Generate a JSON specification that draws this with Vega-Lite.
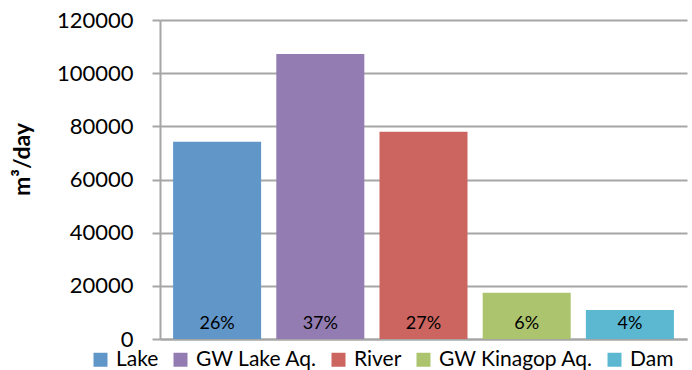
{
  "$schema": "https://vega.github.io/schema/vega-lite/v6.json",
  "width": 527,
  "height": 319,
  "autosize": {"type": "none"},
  "padding": {"left": 160, "top": 20, "right": 5, "bottom": 31},
  "background": "white",
  "config": {
    "font": "Lato",
    "view": {"stroke": null}
  },
  "data": {
    "values": [
      {"source": "Lake", "flow": 74200, "share": "26%"},
      {"source": "GW Lake Aq.", "flow": 107200, "share": "37%"},
      {"source": "River", "flow": 78000, "share": "27%"},
      {"source": "GW Kinagop Aq.", "flow": 17400, "share": "6%"},
      {"source": "Dam", "flow": 10900, "share": "4%"}
    ]
  },
  "encoding": {
    "x": {
      "field": "source",
      "type": "nominal",
      "sort": null,
      "scale": {"paddingInner": 0.147, "paddingOuter": 0.127},
      "axis": {
        "title": null,
        "labels": false,
        "ticks": false,
        "domain": true,
        "domainColor": "#a6a6a6",
        "domainWidth": 2
      }
    }
  },
  "layer": [
    {
      "mark": {"type": "bar"},
      "encoding": {
        "y": {
          "field": "flow",
          "type": "quantitative",
          "scale": {"domain": [0, 120000], "nice": false},
          "axis": {
            "title": "m³/day",
            "titleFont": "Lato",
            "titleFontSize": 23,
            "titleFontWeight": "bold",
            "titleColor": "#000000",
            "titleX": -138,
            "titleY": 139,
            "titleAngle": -90,
            "titleAlign": "center",
            "titleBaseline": "middle",
            "values": [0, 20000, 40000, 60000, 80000, 100000, 120000],
            "format": "d",
            "labelFontSize": 22,
            "labelColor": "#000000",
            "labelPadding": 19,
            "tickSize": 8,
            "tickColor": "#a6a6a6",
            "tickWidth": 2,
            "domainColor": "#a6a6a6",
            "domainWidth": 2,
            "grid": true,
            "gridColor": "#a6a6a6",
            "gridWidth": 2
          }
        },
        "color": {
          "field": "source",
          "type": "nominal",
          "sort": null,
          "scale": {
            "domain": ["Lake", "GW Lake Aq.", "River", "GW Kinagop Aq.", "Dam"],
            "range": ["#6096c8", "#937cb2", "#cc6560", "#adc46e", "#5cb8d1"]
          },
          "legend": {
            "title": null,
            "orient": "none",
            "direction": "horizontal",
            "legendX": -70,
            "legendY": 329,
            "symbolType": "square",
            "symbolSize": 196,
            "symbolStrokeWidth": 0,
            "labelFontSize": 21,
            "labelLimit": 300,
            "labelColor": "#000000",
            "labelOffset": 5,
            "columnPadding": 11
          }
        }
      }
    },
    {
      "mark": {"type": "text", "baseline": "alphabetic", "dy": -10, "fontSize": 18, "color": "#000000"},
      "encoding": {
        "y": {"datum": 0, "type": "quantitative"},
        "text": {"field": "share"}
      }
    }
  ]
}
